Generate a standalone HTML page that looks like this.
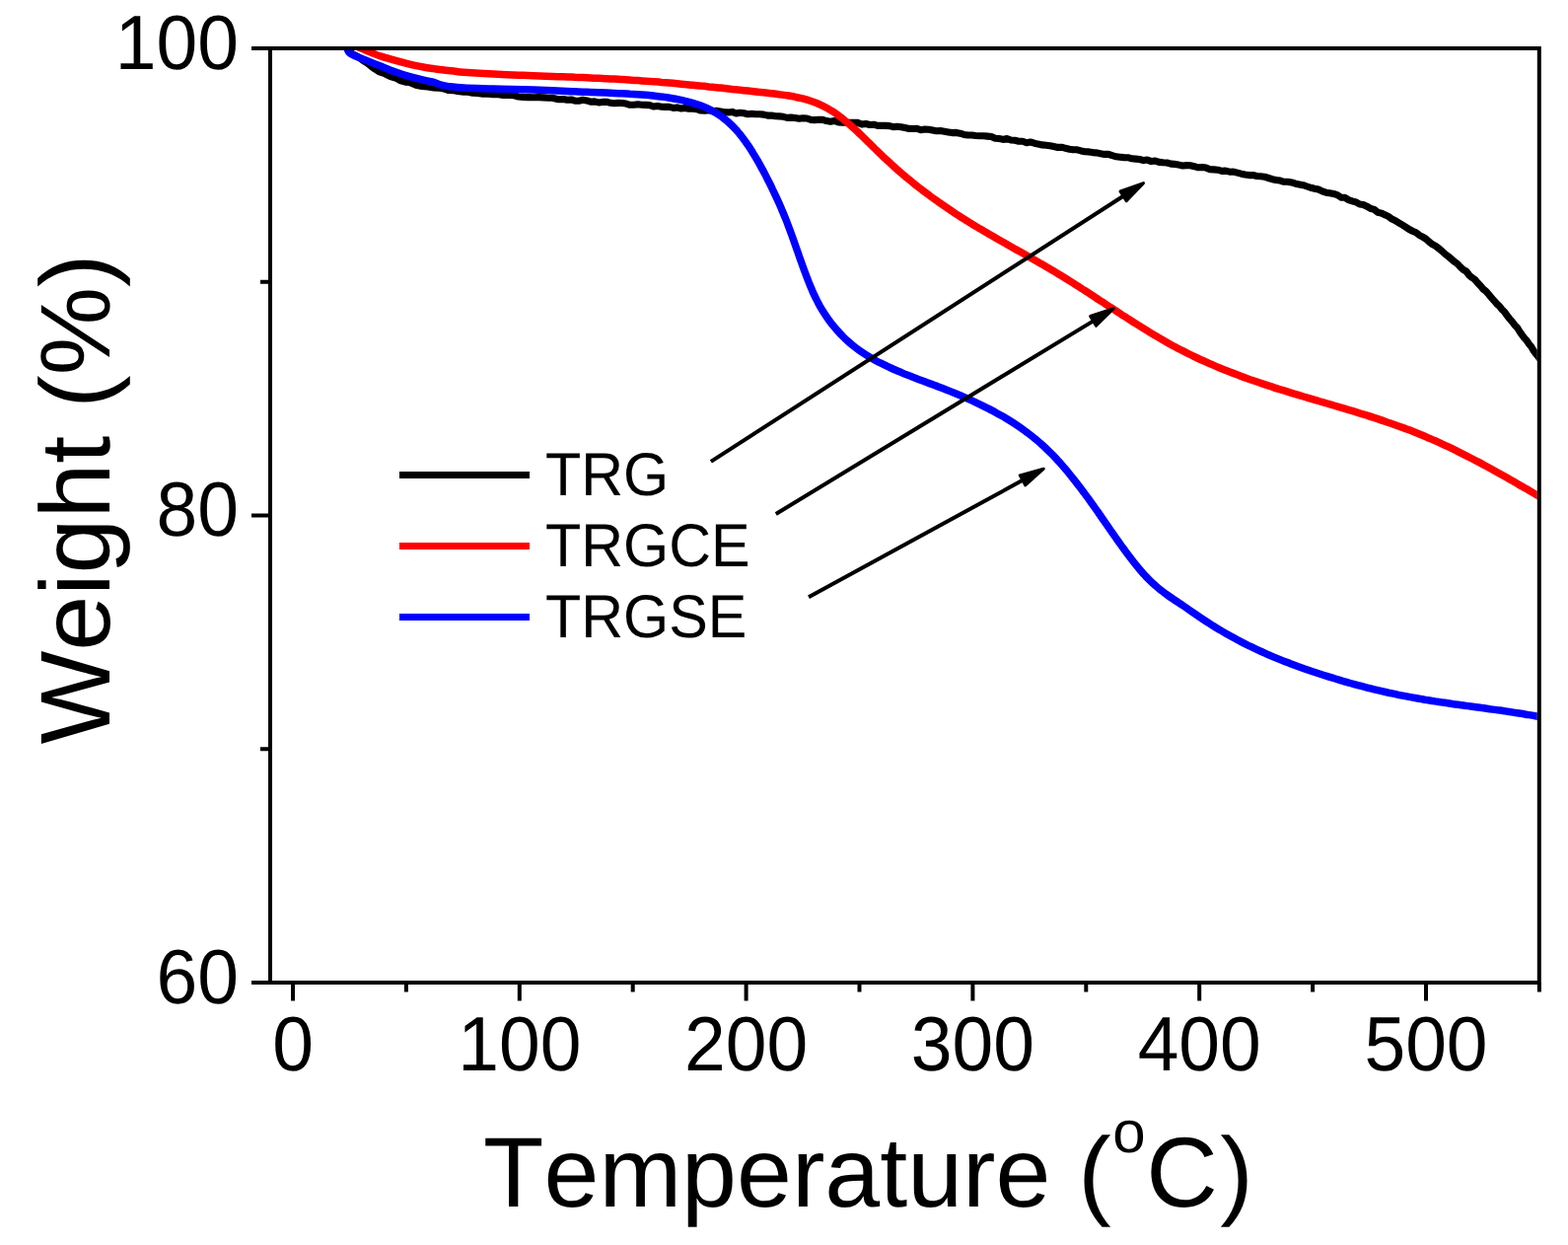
<!DOCTYPE html>
<html lang="en"><head><meta charset="utf-8"><title>TGA curves</title>
<style>html,body{margin:0;padding:0;background:#fff}body{width:1590px;height:1262px;overflow:hidden}</style></head>
<body>
<svg width="1590" height="1262" viewBox="0 0 1590 1262" style="display:block;font-kerning:none;text-rendering:geometricPrecision;font-family:'Liberation Sans',Arial,Helvetica,sans-serif">
<rect width="1590" height="1262" fill="#fff"/>
<defs><clipPath id="c"><rect x="274" y="49" width="1284.8" height="947"/></clipPath></defs>
<g clip-path="url(#c)" fill="none" stroke-linejoin="round" stroke-linecap="round">
<path d="M353.0 50.9L355.1 52.6L358.0 55.1L360.8 56.2L364.0 58.2L367.9 61.1L372.0 63.6L375.9 66.8L380.0 69.8L384.9 72.9L390.3 74.7L396.0 77.5L402.0 79.4L406.4 81.9L411.0 83.1L415.5 83.4L421.8 86.2L428.0 87.5L433.8 88.0L440.0 88.9L444.8 89.1L449.9 89.9L455.0 91.5L459.5 91.6L464.0 92.5L470.2 93.2L474.4 93.3L479.2 94.2L484.4 94.5L489.8 95.3L495.2 95.2L500.4 95.7L505.4 95.8L510.5 96.4L515.6 96.5L520.6 96.6L525.6 98.0L530.6 98.4L535.7 98.6L541.0 98.8L546.2 98.6L551.3 98.9L555.9 99.3L560.0 99.3L566.3 100.7L571.1 100.5L575.0 101.3L579.4 101.0L583.0 102.1L587.0 102.2L591.0 101.3L594.9 101.9L598.9 103.2L602.9 102.9L606.9 103.9L610.9 103.4L614.9 103.2L618.9 104.3L622.9 104.8L626.9 104.4L630.8 104.5L634.8 105.1L638.8 106.3L642.8 106.3L646.8 105.8L650.8 106.2L654.8 106.4L658.8 106.6L662.7 108.0L666.7 107.4L670.7 108.3L674.7 108.4L678.7 108.4L682.7 109.4L686.7 108.9L690.7 110.0L694.6 109.5L698.6 110.3L702.6 110.3L706.6 110.7L710.6 112.0L714.6 112.1L718.6 111.7L722.6 112.9L726.5 112.3L730.5 112.9L734.5 113.8L738.5 113.9L742.5 113.4L746.5 115.0L750.5 114.3L754.4 114.7L758.4 115.7L762.4 115.4L766.4 115.7L770.4 115.7L774.4 116.1L778.4 117.1L782.3 117.0L786.3 117.8L790.3 117.9L794.3 118.3L798.3 119.4L802.3 119.1L806.3 119.5L810.2 120.3L814.2 119.7L818.2 120.0L822.2 121.4L826.2 121.6L830.2 121.2L834.2 121.4L838.1 122.6L842.1 123.2L846.1 122.5L850.1 123.9L854.1 124.2L858.1 124.2L862.0 124.3L866.0 124.2L870.0 124.4L874.0 126.1L878.0 125.5L882.0 126.5L885.9 126.2L889.9 127.4L893.9 127.4L897.9 127.4L901.9 127.6L905.9 128.7L909.8 128.2L913.8 128.8L917.8 129.6L921.8 130.4L925.8 130.5L929.7 130.4L933.7 131.7L937.7 131.1L941.7 131.2L945.7 132.0L949.6 132.7L953.6 132.6L957.6 133.2L961.6 133.9L965.6 134.6L969.5 134.4L973.5 135.2L977.5 136.4L981.5 137.0L985.4 137.0L989.4 137.5L993.4 137.8L997.3 137.7L1001.3 138.1L1005.3 138.5L1009.2 140.3L1013.2 140.5L1017.2 141.4L1021.1 140.6L1025.1 142.0L1029.1 142.3L1033.0 143.2L1037.0 143.2L1041.0 144.7L1044.9 144.0L1048.9 145.2L1052.8 146.1L1056.8 146.9L1060.8 147.3L1064.7 147.8L1068.7 148.6L1072.6 149.4L1076.6 149.2L1080.5 150.3L1084.5 151.2L1088.4 151.8L1092.4 151.8L1096.3 152.9L1100.3 153.7L1104.2 153.9L1108.2 154.6L1112.1 154.9L1116.1 155.8L1120.0 156.4L1124.0 156.3L1127.9 157.7L1131.9 158.8L1135.8 159.2L1139.8 159.6L1143.8 159.7L1147.7 160.8L1151.7 161.1L1155.6 161.5L1159.6 162.6L1163.5 162.1L1167.5 163.6L1171.5 163.1L1175.4 164.4L1179.4 164.8L1183.4 165.0L1187.3 166.1L1191.3 166.4L1195.3 167.1L1199.2 168.0L1203.2 167.6L1207.2 167.8L1211.1 168.7L1215.1 169.8L1219.1 169.6L1223.0 170.1L1227.0 171.7L1231.0 171.9L1234.9 172.2L1238.9 173.4L1242.8 173.1L1246.8 174.2L1250.8 174.1L1254.7 175.1L1258.7 176.2L1262.6 177.0L1266.6 177.6L1270.5 177.5L1274.5 178.5L1278.4 178.8L1282.3 179.2L1286.3 180.5L1290.2 181.7L1294.1 182.5L1298.1 183.1L1302.0 184.3L1305.9 184.2L1309.8 184.9L1313.7 186.2L1317.6 186.9L1321.5 187.7L1325.4 189.0L1329.3 190.3L1333.1 191.2L1337.0 192.0L1340.8 193.9L1344.7 195.2L1348.5 195.7L1352.3 196.4L1356.1 197.6L1359.9 200.1L1363.7 200.3L1367.5 202.6L1371.2 203.8L1375.0 204.9L1378.7 207.0L1382.4 207.5L1386.1 209.2L1389.8 211.3L1393.5 212.4L1397.1 215.2L1400.7 216.1L1404.3 217.7L1407.9 219.4L1411.5 222.1L1415.1 223.7L1418.6 225.9L1422.1 228.0L1425.6 230.2L1429.0 232.5L1432.4 234.2L1435.9 235.7L1439.2 238.3L1442.6 240.1L1445.9 242.1L1449.2 245.1L1452.5 247.7L1455.8 249.4L1459.0 251.9L1462.2 254.5L1465.4 257.5L1468.5 259.8L1471.6 262.5L1474.7 265.2L1477.8 267.4L1480.8 270.6L1483.8 273.4L1486.8 275.0L1489.8 279.0L1492.7 281.4L1495.6 283.4L1498.4 286.7L1501.3 289.8L1504.1 293.1L1506.9 295.3L1509.7 298.5L1512.4 301.9L1515.1 304.8L1517.8 308.0L1520.5 310.4L1523.1 313.7L1525.7 316.2L1528.3 320.0L1530.9 323.2L1533.4 326.1L1535.9 329.4L1538.4 331.9L1540.9 336.0L1543.3 339.4L1545.7 342.6L1548.1 345.2L1550.5 348.8L1552.8 351.5L1555.2 355.6L1557.5 358.8L1559.8 361.5L1562.0 364.4L1564.3 368.3L1566.0 371.0" stroke="#000" stroke-width="7.1"/>
<path d="M352.0 44.0C353.8 44.6 359.6 46.5 362.6 47.6C365.6 48.7 366.4 49.2 370.2 50.7C374.0 52.2 380.3 55.1 385.3 56.8C390.3 58.5 395.4 59.7 400.4 61.1C405.4 62.5 410.5 63.9 415.5 65.1C420.5 66.3 426.5 67.5 430.6 68.3C434.7 69.0 437.5 69.2 440.0 69.6C442.5 70.0 442.4 70.1 445.7 70.5C449.0 70.9 455.9 71.5 460.0 72.0C464.1 72.5 463.5 72.7 470.2 73.2C476.9 73.7 490.3 74.6 500.4 75.1C510.5 75.6 520.7 75.9 530.6 76.3C540.5 76.7 552.6 77.2 560.0 77.5C567.4 77.8 571.2 77.8 575.0 77.9C578.8 78.1 580.3 78.1 583.0 78.3C585.7 78.4 588.3 78.5 591.0 78.6C593.7 78.7 596.3 78.8 599.0 78.9C601.6 79.1 604.3 79.2 607.0 79.3C609.6 79.4 612.3 79.6 615.0 79.7C617.6 79.8 620.3 80.0 623.0 80.1C625.6 80.3 628.3 80.4 630.9 80.6C633.6 80.8 636.3 80.9 638.9 81.1C641.6 81.3 644.2 81.5 646.9 81.6C649.6 81.8 652.2 82.0 654.9 82.2C657.5 82.4 660.2 82.6 662.9 82.8C665.5 83.0 668.2 83.2 670.8 83.5C673.5 83.7 676.2 83.9 678.8 84.1C681.5 84.4 684.1 84.6 686.8 84.8C689.4 85.1 692.1 85.3 694.8 85.6C697.4 85.8 700.1 86.1 702.7 86.3C705.4 86.6 708.0 86.8 710.7 87.1C713.3 87.3 716.0 87.6 718.6 87.9C721.3 88.1 724.0 88.4 726.6 88.7C729.3 89.0 731.9 89.2 734.6 89.5C737.2 89.8 739.9 90.1 742.5 90.4C745.2 90.6 747.8 90.9 750.5 91.2C753.1 91.5 755.8 91.8 758.4 92.1C761.1 92.4 763.7 92.7 766.4 93.0C769.0 93.3 771.7 93.6 774.3 93.8C777.0 94.1 779.6 94.4 782.3 94.7C784.9 95.0 787.6 95.3 790.2 95.7C792.9 96.0 795.5 96.4 798.2 96.8C800.8 97.2 803.4 97.6 806.1 98.2C808.7 98.7 811.3 99.3 813.9 99.9C816.5 100.6 819.1 101.3 821.7 102.2C824.2 103.1 826.8 104.0 829.3 105.0C831.8 106.1 834.2 107.2 836.6 108.5C839.1 109.8 841.4 111.1 843.7 112.6C846.1 114.0 848.3 115.6 850.5 117.2C852.7 118.8 854.8 120.5 856.9 122.3C859.0 124.0 861.1 125.8 863.1 127.6C865.1 129.4 867.1 131.2 869.1 133.0C871.0 134.9 873.0 136.8 874.9 138.6C876.8 140.5 878.7 142.4 880.6 144.2C882.5 146.1 884.4 148.0 886.3 149.9C888.2 151.7 890.1 153.6 892.0 155.4C893.9 157.3 895.9 159.1 897.8 160.9C899.7 162.7 901.7 164.5 903.6 166.3C905.6 168.1 907.6 169.8 909.5 171.6C911.5 173.3 913.5 175.1 915.6 176.8C917.6 178.5 919.6 180.2 921.7 181.9C923.7 183.6 925.8 185.2 927.8 186.9C929.9 188.5 932.0 190.2 934.1 191.8C936.2 193.4 938.3 195.0 940.4 196.6C942.5 198.2 944.7 199.7 946.8 201.3C949.0 202.9 951.1 204.4 953.3 205.9C955.5 207.4 957.7 208.9 959.9 210.4C962.1 211.9 964.3 213.4 966.5 214.9C968.7 216.3 970.9 217.8 973.2 219.2C975.4 220.6 977.6 222.1 979.9 223.5C982.2 224.9 984.4 226.3 986.7 227.7C989.0 229.0 991.2 230.4 993.5 231.8C995.8 233.1 998.1 234.5 1000.4 235.8C1002.7 237.2 1005.0 238.5 1007.3 239.8C1009.6 241.2 1011.9 242.5 1014.2 243.8C1016.5 245.1 1018.9 246.4 1021.2 247.8C1023.5 249.1 1025.8 250.4 1028.1 251.7C1030.5 253.0 1032.8 254.3 1035.1 255.6C1037.4 256.9 1039.8 258.2 1042.1 259.5C1044.4 260.9 1046.7 262.2 1049.0 263.5C1051.4 264.8 1053.7 266.2 1056.0 267.5C1058.3 268.8 1060.6 270.2 1062.9 271.5C1065.2 272.9 1067.5 274.3 1069.8 275.6C1072.1 277.0 1074.4 278.4 1076.7 279.8C1078.9 281.2 1081.2 282.6 1083.5 284.0C1085.8 285.4 1088.0 286.9 1090.3 288.3C1092.5 289.7 1094.8 291.2 1097.0 292.6C1099.3 294.0 1101.5 295.5 1103.8 296.9C1106.0 298.4 1108.2 299.9 1110.5 301.3C1112.7 302.8 1114.9 304.2 1117.2 305.7C1119.4 307.1 1121.6 308.6 1123.9 310.1C1126.1 311.5 1128.3 313.0 1130.6 314.4C1132.8 315.9 1135.0 317.3 1137.3 318.8C1139.5 320.2 1141.7 321.7 1144.0 323.1C1146.2 324.6 1148.5 326.0 1150.7 327.4C1153.0 328.8 1155.2 330.2 1157.5 331.7C1159.7 333.1 1162.0 334.5 1164.3 335.8C1166.5 337.2 1168.8 338.6 1171.1 339.9C1173.4 341.3 1175.7 342.7 1178.0 344.0C1180.3 345.3 1182.6 346.6 1184.9 347.9C1187.2 349.2 1189.6 350.5 1191.9 351.7C1194.2 353.0 1196.6 354.2 1198.9 355.4C1201.3 356.7 1203.7 357.8 1206.1 359.0C1208.4 360.2 1210.8 361.4 1213.2 362.5C1215.6 363.6 1218.0 364.7 1220.5 365.8C1222.9 366.9 1225.3 368.0 1227.7 369.1C1230.2 370.1 1232.6 371.2 1235.1 372.2C1237.5 373.2 1240.0 374.2 1242.5 375.2C1244.9 376.2 1247.4 377.2 1249.9 378.1C1252.4 379.1 1254.9 380.0 1257.4 381.0C1259.8 381.9 1262.3 382.8 1264.9 383.7C1267.4 384.6 1269.9 385.5 1272.4 386.3C1274.9 387.2 1277.4 388.1 1279.9 388.9C1282.5 389.8 1285.0 390.6 1287.5 391.4C1290.1 392.2 1292.6 393.1 1295.1 393.9C1297.7 394.7 1300.2 395.5 1302.8 396.2C1305.3 397.0 1307.9 397.8 1310.4 398.6C1313.0 399.3 1315.5 400.1 1318.1 400.9C1320.6 401.6 1323.2 402.4 1325.7 403.1C1328.3 403.9 1330.9 404.6 1333.4 405.4C1336.0 406.1 1338.5 406.9 1341.1 407.6C1343.7 408.4 1346.2 409.1 1348.8 409.9C1351.3 410.6 1353.9 411.4 1356.4 412.1C1359.0 412.9 1361.6 413.6 1364.1 414.4C1366.7 415.2 1369.2 415.9 1371.8 416.7C1374.3 417.5 1376.9 418.3 1379.4 419.1C1382.0 419.8 1384.5 420.6 1387.1 421.4C1389.6 422.3 1392.2 423.1 1394.7 423.9C1397.3 424.7 1399.8 425.6 1402.3 426.4C1404.9 427.3 1407.4 428.1 1409.9 429.0C1412.4 429.9 1414.9 430.8 1417.5 431.7C1420.0 432.6 1422.5 433.5 1425.0 434.4C1427.5 435.4 1430.0 436.3 1432.5 437.3C1435.0 438.3 1437.5 439.3 1439.9 440.3C1442.4 441.3 1444.9 442.3 1447.3 443.4C1449.8 444.4 1452.3 445.5 1454.7 446.5C1457.2 447.6 1459.6 448.7 1462.0 449.8C1464.5 451.0 1466.9 452.1 1469.3 453.2C1471.7 454.4 1474.1 455.6 1476.5 456.7C1478.9 457.9 1481.3 459.1 1483.7 460.3C1486.1 461.5 1488.5 462.7 1490.8 464.0C1493.2 465.2 1495.6 466.4 1497.9 467.7C1500.3 468.9 1502.7 470.2 1505.0 471.5C1507.4 472.7 1509.7 474.0 1512.0 475.3C1514.4 476.6 1516.7 477.9 1519.1 479.2C1521.4 480.5 1523.7 481.8 1526.0 483.1C1528.4 484.4 1530.7 485.8 1533.0 487.1C1535.3 488.4 1537.6 489.7 1539.9 491.1C1542.3 492.4 1544.6 493.8 1546.9 495.1C1549.2 496.4 1551.5 497.8 1553.8 499.1C1556.1 500.5 1558.7 502.0 1560.7 503.2C1562.7 504.4 1565.1 505.8 1566.0 506.3" stroke="#f00" stroke-width="7.5"/>
<path d="M352.6 50.5C352.8 50.9 353.1 52.1 354.0 53.0C354.9 53.9 356.4 54.9 358.0 55.8C359.6 56.7 361.9 57.5 363.9 58.3C365.9 59.1 366.6 59.4 370.2 60.8C373.8 62.2 380.3 64.8 385.3 66.8C390.3 68.8 395.4 71.0 400.4 72.8C405.4 74.6 410.5 76.3 415.5 77.7C420.5 79.1 426.5 80.5 430.6 81.4C434.7 82.4 437.2 82.6 440.0 83.4C442.8 84.2 445.0 85.5 447.5 86.2C450.0 86.9 451.2 87.1 455.0 87.6C458.8 88.1 462.6 88.7 470.2 89.1C477.8 89.5 490.3 89.7 500.4 90.0C510.5 90.3 520.7 90.5 530.6 90.8C540.5 91.1 552.6 91.5 560.0 91.8C567.4 92.1 571.2 92.3 575.0 92.5C578.8 92.7 580.3 92.7 583.0 92.8C585.7 93.0 588.3 93.1 591.0 93.2C593.7 93.3 596.3 93.4 599.0 93.5C601.6 93.6 604.3 93.7 607.0 93.8C609.6 93.9 612.3 94.0 615.0 94.1C617.6 94.2 620.3 94.3 623.0 94.4C625.6 94.5 628.3 94.6 631.0 94.8C633.6 94.9 636.3 95.0 638.9 95.2C641.6 95.3 644.3 95.5 646.9 95.7C649.6 95.9 652.3 96.1 654.9 96.3C657.6 96.5 660.2 96.8 662.9 97.1C665.5 97.4 668.2 97.7 670.8 98.1C673.5 98.4 676.1 98.8 678.8 99.2C681.4 99.7 684.0 100.1 686.7 100.6C689.3 101.2 691.9 101.7 694.5 102.3C697.1 102.9 699.7 103.6 702.3 104.3C704.9 105.1 707.5 105.9 710.0 106.8C712.5 107.7 715.1 108.7 717.5 109.9C720.0 111.0 722.4 112.3 724.8 113.7C727.1 115.1 729.4 116.6 731.7 118.2C733.9 119.9 736.0 121.6 738.1 123.4C740.2 125.3 742.2 127.2 744.1 129.2C746.0 131.2 747.9 133.3 749.7 135.4C751.4 137.5 753.1 139.7 754.8 142.0C756.4 144.2 758.0 146.5 759.5 148.7C761.0 151.0 762.5 153.4 763.9 155.7C765.4 158.0 766.8 160.4 768.1 162.7C769.5 165.1 770.8 167.5 772.1 169.9C773.4 172.2 774.7 174.6 776.0 177.0C777.2 179.5 778.5 181.9 779.7 184.3C780.9 186.7 782.1 189.1 783.2 191.6C784.4 194.0 785.6 196.5 786.7 198.9C787.9 201.4 789.0 203.8 790.1 206.3C791.2 208.8 792.3 211.3 793.3 213.8C794.4 216.3 795.4 218.8 796.5 221.4C797.5 223.9 798.5 226.5 799.4 229.0C800.4 231.6 801.3 234.1 802.3 236.7C803.2 239.2 804.1 241.7 805.0 244.3C805.9 246.8 806.8 249.3 807.7 251.9C808.6 254.4 809.5 256.9 810.3 259.4C811.2 261.9 812.1 264.4 813.0 266.9C813.9 269.4 814.8 271.9 815.7 274.4C816.6 276.8 817.5 279.3 818.4 281.7C819.4 284.2 820.3 286.6 821.3 289.0C822.3 291.4 823.3 293.7 824.3 296.1C825.4 298.4 826.4 300.7 827.6 303.0C828.7 305.3 829.9 307.5 831.1 309.8C832.4 312.0 833.7 314.2 835.0 316.3C836.4 318.5 837.8 320.6 839.3 322.7C840.8 324.8 842.3 326.9 843.9 328.9C845.5 330.9 847.2 332.9 848.9 334.8C850.6 336.8 852.3 338.7 854.2 340.5C856.0 342.4 857.8 344.2 859.8 345.9C861.7 347.6 863.7 349.3 865.7 350.9C867.7 352.5 869.8 354.1 872.0 355.6C874.1 357.1 876.3 358.5 878.5 359.9C880.8 361.3 883.0 362.6 885.3 363.9C887.6 365.2 890.0 366.5 892.3 367.7C894.7 368.9 897.0 370.0 899.4 371.2C901.8 372.3 904.2 373.4 906.6 374.5C909.1 375.6 911.5 376.6 914.0 377.6C916.4 378.7 918.9 379.7 921.3 380.6C923.8 381.6 926.3 382.6 928.8 383.5C931.3 384.5 933.8 385.4 936.3 386.3C938.8 387.3 941.3 388.2 943.8 389.1C946.3 390.1 948.8 391.0 951.3 391.9C953.8 392.9 956.2 393.8 958.7 394.8C961.2 395.8 963.7 396.7 966.2 397.8C968.7 398.8 971.1 399.8 973.6 400.8C976.1 401.9 978.5 402.9 981.0 404.0C983.4 405.1 985.9 406.2 988.3 407.3C990.7 408.5 993.1 409.6 995.5 410.8C997.9 412.0 1000.3 413.2 1002.7 414.4C1005.1 415.7 1007.5 416.9 1009.8 418.2C1012.2 419.5 1014.5 420.8 1016.8 422.1C1019.2 423.5 1021.5 424.9 1023.8 426.3C1026.1 427.7 1028.3 429.1 1030.6 430.6C1032.8 432.1 1035.1 433.7 1037.2 435.2C1039.4 436.8 1041.6 438.4 1043.8 440.1C1045.9 441.7 1048.0 443.4 1050.1 445.1C1052.2 446.9 1054.2 448.6 1056.2 450.4C1058.3 452.2 1060.3 454.1 1062.2 456.0C1064.2 457.9 1066.1 459.8 1068.0 461.7C1069.9 463.7 1071.7 465.7 1073.5 467.7C1075.4 469.7 1077.1 471.7 1078.9 473.8C1080.7 475.8 1082.4 477.9 1084.1 480.0C1085.8 482.1 1087.5 484.2 1089.2 486.3C1090.9 488.4 1092.5 490.5 1094.1 492.7C1095.8 494.8 1097.4 497.0 1099.0 499.1C1100.6 501.3 1102.2 503.5 1103.8 505.6C1105.3 507.8 1106.9 510.0 1108.5 512.2C1110.0 514.3 1111.6 516.5 1113.1 518.7C1114.6 520.9 1116.2 523.1 1117.7 525.3C1119.2 527.5 1120.8 529.7 1122.3 531.9C1123.8 534.1 1125.3 536.3 1126.8 538.5C1128.4 540.6 1129.9 542.8 1131.4 545.0C1132.9 547.2 1134.5 549.3 1136.0 551.5C1137.5 553.7 1139.1 555.8 1140.6 557.9C1142.2 560.1 1143.8 562.2 1145.4 564.3C1147.0 566.4 1148.6 568.5 1150.2 570.5C1151.8 572.6 1153.5 574.6 1155.2 576.6C1156.8 578.6 1158.6 580.6 1160.3 582.5C1162.1 584.4 1163.8 586.3 1165.7 588.2C1167.5 590.0 1169.4 591.7 1171.4 593.4C1173.3 595.2 1175.3 596.8 1177.4 598.4C1179.4 600.0 1181.6 601.6 1183.7 603.1C1185.8 604.6 1188.0 606.1 1190.2 607.6C1192.4 609.1 1194.6 610.5 1196.9 612.0C1199.1 613.5 1201.3 615.0 1203.5 616.5C1205.7 618.1 1207.9 619.6 1210.1 621.1C1212.3 622.6 1214.5 624.1 1216.7 625.6C1218.9 627.1 1221.1 628.6 1223.3 630.0C1225.5 631.4 1227.8 632.9 1230.0 634.3C1232.3 635.7 1234.5 637.1 1236.8 638.4C1239.1 639.8 1241.4 641.1 1243.7 642.4C1246.0 643.7 1248.3 645.0 1250.6 646.3C1252.9 647.6 1255.3 648.8 1257.6 650.1C1260.0 651.3 1262.4 652.5 1264.7 653.7C1267.1 654.9 1269.5 656.0 1271.9 657.2C1274.3 658.3 1276.7 659.4 1279.1 660.5C1281.5 661.6 1284.0 662.7 1286.4 663.8C1288.8 664.8 1291.3 665.9 1293.7 666.9C1296.2 667.9 1298.7 668.9 1301.1 669.9C1303.6 670.9 1306.1 671.8 1308.6 672.8C1311.0 673.7 1313.5 674.6 1316.0 675.5C1318.5 676.4 1321.0 677.3 1323.6 678.2C1326.1 679.1 1328.6 679.9 1331.1 680.8C1333.6 681.6 1336.2 682.5 1338.7 683.3C1341.2 684.1 1343.8 684.9 1346.3 685.7C1348.9 686.5 1351.4 687.3 1354.0 688.0C1356.5 688.8 1359.1 689.5 1361.6 690.3C1364.2 691.0 1366.7 691.8 1369.3 692.5C1371.9 693.2 1374.4 693.9 1377.0 694.6C1379.6 695.3 1382.1 696.0 1384.7 696.6C1387.3 697.3 1389.9 697.9 1392.5 698.6C1395.1 699.2 1397.7 699.8 1400.2 700.4C1402.8 701.0 1405.4 701.6 1408.0 702.2C1410.6 702.7 1413.2 703.3 1415.9 703.8C1418.5 704.4 1421.1 704.9 1423.7 705.4C1426.3 705.9 1428.9 706.4 1431.5 706.9C1434.2 707.4 1436.8 707.8 1439.4 708.3C1442.0 708.7 1444.7 709.2 1447.3 709.6C1449.9 710.0 1452.6 710.4 1455.2 710.9C1457.8 711.3 1460.5 711.7 1463.1 712.1C1465.7 712.4 1468.4 712.8 1471.0 713.2C1473.6 713.6 1476.3 714.0 1478.9 714.3C1481.6 714.7 1484.2 715.1 1486.9 715.4C1489.5 715.8 1492.1 716.1 1494.8 716.5C1497.4 716.9 1500.1 717.2 1502.7 717.6C1505.3 717.9 1508.0 718.3 1510.6 718.7C1513.3 719.0 1515.9 719.4 1518.6 719.8C1521.2 720.1 1523.8 720.5 1526.5 720.9C1529.1 721.3 1531.8 721.7 1534.4 722.1C1537.0 722.5 1539.7 722.9 1542.3 723.3C1544.9 723.7 1547.6 724.2 1550.2 724.6C1552.8 725.0 1555.5 725.5 1558.1 726.0C1560.7 726.4 1564.7 727.2 1566.0 727.4C1567.3 727.7 1566.0 727.4 1566.0 727.4" stroke="#00f" stroke-width="7.5"/>
</g>
<g stroke="#000" stroke-width="4" fill="none">
<rect x="274" y="49" width="1286.8" height="947"/>
<path d="M255 49.0H274M255 522.5H274M255 996.0H274M264 285.8H274M264 759.2H274M297.0 996V1014.6M526.8 996V1014.6M756.6 996V1014.6M986.4 996V1014.6M1216.2 996V1014.6M1446.0 996V1014.6M411.9 996V1005.5M641.7 996V1005.5M871.5 996V1005.5M1101.3 996V1005.5M1331.1 996V1005.5M1560.9 996V1005.5"/>
</g>
<line x1="720.9" y1="467.9" x2="1139.5" y2="198.5" stroke="#000" stroke-width="4"/><polygon points="1159.5,185.6 1142.2,203.6 1136.0,194.0" fill="#000" stroke="#000" stroke-width="3" stroke-linejoin="round"/>
<line x1="786.8" y1="521.0" x2="1109.0" y2="325.1" stroke="#000" stroke-width="4"/><polygon points="1129.3,312.8 1111.5,330.3 1105.6,320.5" fill="#000" stroke="#000" stroke-width="3" stroke-linejoin="round"/>
<line x1="820.0" y1="605.3" x2="1037.4" y2="486.6" stroke="#000" stroke-width="4"/><polygon points="1058.3,475.2 1039.7,491.9 1034.2,481.9" fill="#000" stroke="#000" stroke-width="3" stroke-linejoin="round"/>
<g stroke-width="7">
<line x1="405" y1="481.5" x2="537" y2="481.5" stroke="#000"/>
<line x1="405" y1="553.5" x2="537" y2="553.5" stroke="#f00"/>
<line x1="405" y1="625.5" x2="537" y2="625.5" stroke="#00f"/>
</g>
<text transform="translate(553.0 502.2) scale(1 1.04)" font-size="59.3px" text-anchor="start" fill="#000">TRG</text>
<text transform="translate(553.0 574.2) scale(1 1.04)" font-size="59.3px" text-anchor="start" fill="#000">TRGCE</text>
<text transform="translate(553.0 645.8) scale(1 1.04)" font-size="59.3px" text-anchor="start" fill="#000">TRGSE</text>
<text transform="translate(242.0 69.8) scale(1 1.04)" font-size="75px" text-anchor="end" fill="#000">100</text>
<text transform="translate(242.0 543.3) scale(1 1.04)" font-size="75px" text-anchor="end" fill="#000">80</text>
<text transform="translate(242.0 1016.8) scale(1 1.04)" font-size="75px" text-anchor="end" fill="#000">60</text>
<text transform="translate(297.0 1085.0) scale(1 1.04)" font-size="75px" text-anchor="middle" fill="#000">0</text>
<text transform="translate(526.8 1085.0) scale(1 1.04)" font-size="75px" text-anchor="middle" fill="#000">100</text>
<text transform="translate(756.6 1085.0) scale(1 1.04)" font-size="75px" text-anchor="middle" fill="#000">200</text>
<text transform="translate(986.4 1085.0) scale(1 1.04)" font-size="75px" text-anchor="middle" fill="#000">300</text>
<text transform="translate(1216.2 1085.0) scale(1 1.04)" font-size="75px" text-anchor="middle" fill="#000">400</text>
<text transform="translate(1446.0 1085.0) scale(1 1.04)" font-size="75px" text-anchor="middle" fill="#000">500</text>
<text transform="translate(490.1 1223.0) scale(1 1)" font-size="100.5px" text-anchor="start" fill="#000">Temperature (<tspan font-size="60px" dx="1.5" dy="-55">o</tspan><tspan dx="0.5" dy="55">C</tspan><tspan dx="2.5">)</tspan></text>
<text transform="translate(110.5 754.5) rotate(-90)" font-size="100.5px" fill="#000">Weight (%)</text>
</svg>
</body></html>
